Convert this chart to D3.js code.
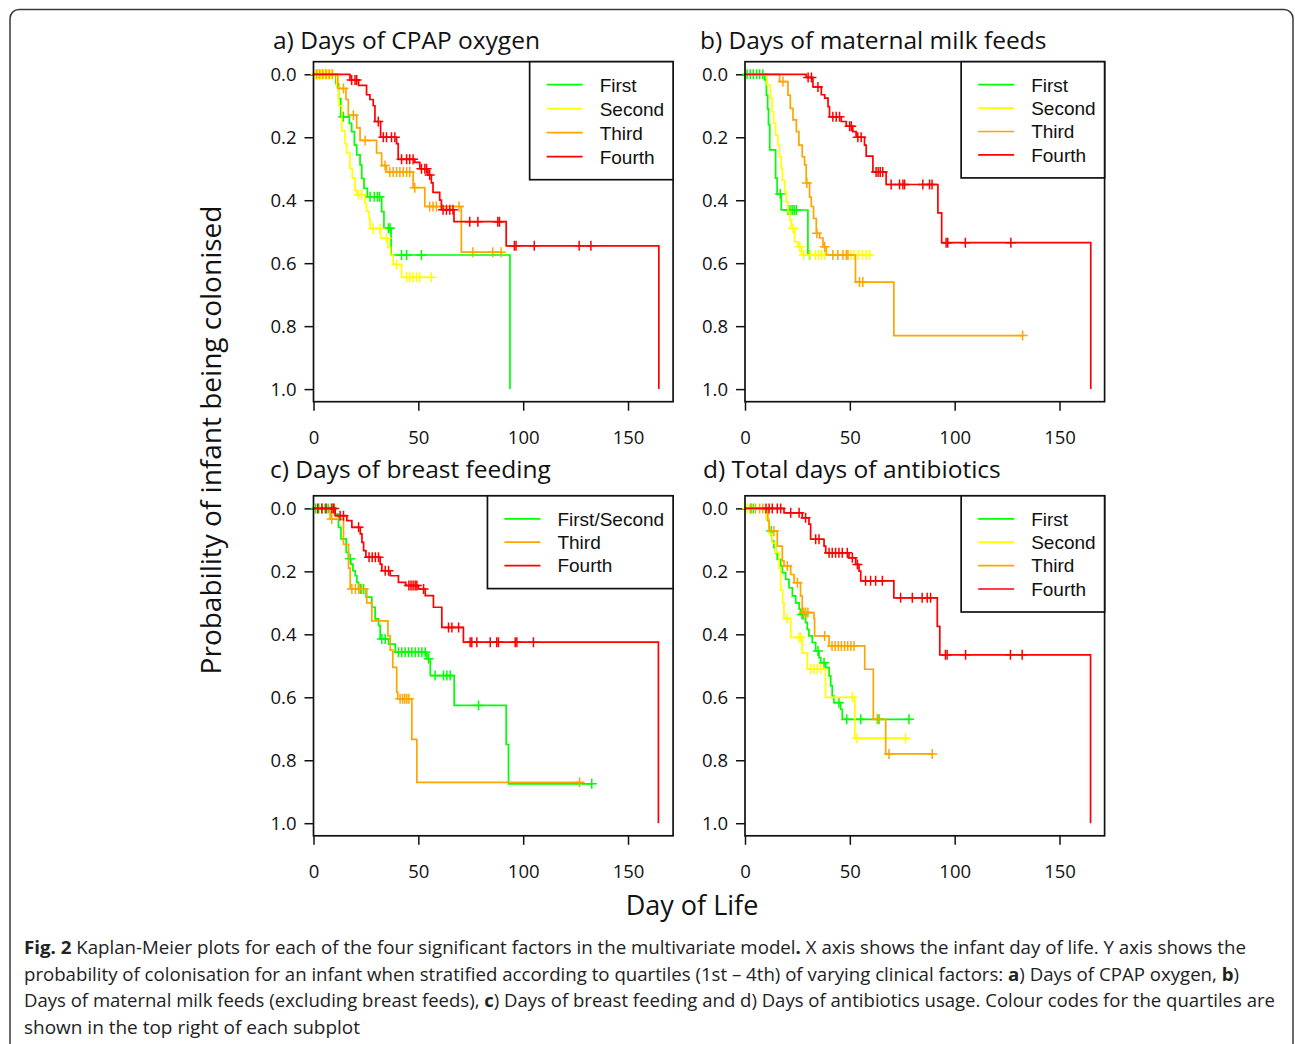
<!DOCTYPE html>
<html>
<head>
<meta charset="utf-8">
<script src="https://cdn.jsdelivr.net/npm/d3@7"></script>
<style>
  body { margin: 0; background: #fff; }
  svg { display: block; }
</style>
</head>
<body>
<div id="chart"></div>
<script>
// legend names / colours (R: green, yellow, orange, red)
var quartileNames = ["First", "Second", "Third", "Fourth"];
var breastNames = ["First/Second", "Third", "Fourth"];
var quartileColors = ["#00ff00", "#ffff00", "#ffa500", "#ff0000"];
var breastColors = ["#00ff00", "#ffa500", "#ff0000"];
var panelTitles = ["a) Days of CPAP oxygen", "b) Days of maternal milk feeds",
                   "c) Days of breast feeding", "d) Total days of antibiotics"];
var xTicks = [0, 50, 100, 150];
var yTicks = [0, 0.2, 0.4, 0.6, 0.8, 1.0];

// each curve: [day, probability colonised] at every drop
// plus the days of censored infants ("+" marks)

// a) CPAP oxygen
var cpapFirst = [[10.7,0.03],[12,0.077],[13,0.135],[17.1,0.156],[18.2,0.182],[19.5,0.225],[20.6,0.256],[22.2,0.288],[23,0.331],[24.1,0.362],[25.7,0.389],[32.5,0.436],[33.6,0.489],[37,0.574],[93.7,1.0]];
var cpapFirstCens = [2,4,6,14.2,27,29,30.5,31.5,35.7,36.5,42,44.4,51.5];
var cpapSecond = [[11.1,0.04],[12,0.1],[13.5,0.18],[15,0.22],[15.8,0.25],[17.4,0.3],[18.5,0.33],[19.8,0.37],[20.6,0.383],[24.5,0.41],[25.3,0.435],[26.5,0.46],[27,0.49],[32,0.52],[35.5,0.55],[36.7,0.574],[38,0.604],[42,0.645]];
var cpapSecondCens = [1,2,3,4,5,6,7,8,9,21.4,23,28.5,31.7,34.8,39.6,44.4,45.9,47.5,49.1,50.7,56.2];
var cpapThird = [[11.6,0.045],[15.5,0.08],[16.6,0.13],[20.6,0.17],[22.2,0.21],[30.1,0.25],[32.5,0.29],[34.8,0.31],[47.5,0.36],[53.1,0.42],[70.5,0.565]];
var cpapThirdCens = [1.5,3,4.5,6,7.5,9,14.3,19,24.6,34.1,36.4,38,39.6,41.2,42.8,44.4,45.9,48.3,55.4,57,58.6,69.4,76,85.5,89.5];
var cpapFourth = [[17.4,0.018],[21.5,0.035],[25.3,0.065],[26.9,0.08],[28.5,0.1],[29.3,0.15],[32,0.2],[39.6,0.22],[40.4,0.27],[48.3,0.28],[50.7,0.3],[54.6,0.32],[56.2,0.345],[57,0.375],[60.2,0.4],[61,0.43],[67,0.468],[91.9,0.545],[164.7,1.0]];
var cpapFourthCens = [18.2,19.8,20.6,30.9,33.3,34.8,37.2,38.8,42,44.4,45.9,47.5,51.5,53.1,53.9,55.4,61.8,63.4,65,66.5,74.5,78.4,87.9,88.7,95.8,96.6,105.3,126.7,132.3];

// b) maternal milk feeds
var milkFirst = [[9.4,0.018],[10.2,0.066],[10.8,0.11],[11.2,0.16],[11.8,0.24],[14.6,0.33],[15.3,0.38],[17.3,0.431],[30,0.574]];
var milkFirstCens = [1,2.5,4,5.5,7,8.5,16.8,20.5,21.5,22.5,23.5,24.5,30.8];
var milkSecond = [[10.5,0.034],[12.1,0.076],[13,0.119],[13.7,0.156],[14.6,0.193],[15.7,0.225],[16.5,0.262],[17.3,0.299],[17.8,0.336],[18.9,0.373],[19.7,0.405],[20.5,0.436],[21.3,0.462],[22.1,0.489],[23.7,0.532],[25.3,0.548],[26.9,0.574]];
var milkSecondCens = [22.9,26.1,28,31,33.5,35,36.5,38,50.5,52,54,56,57.8,59.4];
var milkThird = [[16.5,0.023],[20.5,0.066],[21.6,0.108],[22.9,0.145],[24.5,0.182],[25.7,0.225],[27.3,0.262],[28.4,0.288],[29.2,0.345],[30.8,0.39],[31.6,0.42],[32.7,0.458],[34,0.505],[35.6,0.52],[37.2,0.548],[38.8,0.574],[52.7,0.66],[71,0.83]];
var milkThirdCens = [18.1,29.5,34.3,38,41.9,44.3,46.7,48.3,49.1,54.6,56.2,132.4];
var milkFourth = [[29.2,0.01],[32.4,0.04],[36.4,0.065],[38,0.076],[39.6,0.103],[40.3,0.135],[45.9,0.15],[48.3,0.165],[51.4,0.182],[53,0.2],[57,0.225],[57.8,0.26],[61,0.31],[67.3,0.35],[92,0.44],[93.8,0.535],[164.9,1.0]];
var milkFourthCens = [30.1,31.7,34.8,41.9,43.5,45.1,49.9,50.7,53.8,55.4,62.5,63.5,64.5,65.7,69.7,73.7,75.3,76.1,84.8,88,89.2,95.9,96.7,105.1,126.8];

// c) breast feeding
var breastLow = [[10.3,0.018],[11.9,0.06],[13.1,0.097],[15.6,0.14],[16.7,0.16],[17.8,0.177],[18.8,0.198],[19.9,0.214],[20.7,0.235],[21.5,0.256],[25.1,0.282],[27.8,0.314],[29.4,0.351],[31,0.372],[31.8,0.415],[35.8,0.431],[39,0.457],[54.1,0.478],[55.7,0.531],[67.1,0.626],[91.9,0.75],[93,0.875]];
var breastLowCens = [1,2.5,4,5.5,7,8.5,10,17.5,22.3,23.9,32.6,34.2,40.5,42.1,43.7,45.3,46.9,48.5,50.1,51.7,53.3,54.9,58,62,63.6,65.2,78.7,132.7];
var breastThird = [[7.9,0.034],[14.3,0.114],[16.7,0.19],[17.5,0.256],[25.4,0.3],[27.8,0.357],[35.5,0.405],[36.6,0.45],[37.8,0.505],[39.7,0.584],[40.2,0.605],[46.9,0.734],[49.3,0.87]];
var breastThirdCens = [8.7,18.3,20,21.5,23,41.3,42.5,43.5,44.5,45.5,126.9];
var breastFourth = [[10.3,0.023],[15.9,0.039],[18.3,0.06],[22.3,0.081],[23.1,0.108],[23.9,0.134],[25,0.155],[31.8,0.177],[32.6,0.198],[36.6,0.214],[40.5,0.235],[44,0.245],[50,0.256],[53.3,0.277],[57.2,0.314],[61.2,0.378],[71.5,0.425],[164.5,1.0]];
var breastFourthCens = [2,4,6,8.8,9.6,12.7,14.3,21.5,26.5,28,29.5,31,34.2,35.8,45.5,46.5,47.5,48.5,49.3,52.5,64.4,66,69.2,74.7,75.5,77.9,84.3,87.4,88.2,96.2,97,104.9];

// d) antibiotics
var abxFirst = [[10.3,0.035],[11.5,0.072],[13,0.104],[13.8,0.125],[14.6,0.141],[15.4,0.162],[17,0.183],[17.8,0.204],[19.4,0.225],[21,0.252],[22.6,0.278],[24.2,0.3],[25.8,0.32],[26.5,0.337],[28.9,0.363],[29.7,0.384],[30.5,0.405],[32.1,0.426],[33.7,0.453],[35.3,0.474],[36.1,0.49],[38.5,0.506],[40.1,0.532],[40.9,0.564],[41.6,0.596],[42.4,0.617],[45.6,0.638],[46.4,0.67]];
var abxFirstCens = [2.5,4,12.5,27.2,27.8,34.8,37.7,44.8,48.5,55.2,63.9,78.2];
var abxSecond = [[10.3,0.035],[11.4,0.08],[13,0.11],[14.6,0.14],[16.2,0.19],[17,0.26],[18,0.3],[18.6,0.35],[21.8,0.41],[27.3,0.46],[29.7,0.51],[38.4,0.6],[52.4,0.73]];
var abxSecondCens = [1,3,20.2,25.7,26.5,31.3,32.9,34.5,36.1,51.2,53.5,76.6];
var abxThird = [[10.9,0.04],[11.5,0.072],[15.4,0.12],[17.8,0.167],[18.6,0.183],[21.8,0.21],[23.4,0.236],[26.5,0.278],[27.3,0.331],[32.9,0.35],[33.2,0.405],[40.1,0.437],[57.1,0.511],[61.2,0.67],[67.1,0.78]];
var abxThirdCens = [3,5,7,8.5,13.8,20.2,25,28,28.9,30,38,41.5,43,44.5,46,47.5,49,50.5,52,63.1,68.7,89.3];
var abxFourth = [[18.6,0.014],[27.3,0.03],[30.5,0.05],[31.3,0.098],[37.7,0.12],[38.5,0.141],[49.6,0.157],[52.8,0.178],[54.4,0.199],[55.2,0.23],[71,0.284],[91.7,0.375],[92.9,0.465],[164.8,1.0]];
var abxFourthCens = [10,11.5,13,15.4,17,21.8,25.8,28.9,33.7,35.3,40.1,41.6,43.2,44.8,46.4,48.8,51.2,53.6,57.5,59.9,62.3,65.5,74.2,79.8,84.5,86.9,88.5,95.6,96.4,105.2,126.6,132.2];

// caption
var captionLines = [
  [["Fig. 2", true], [" Kaplan-Meier plots for each of the four significant factors in the multivariate model", false], [".", true], [" X axis shows the infant day of life. Y axis shows the", false]],
  [["probability of colonisation for an infant when stratified according to quartiles (1st \u2013 4th) of varying clinical factors: ", false], ["a", true], [") Days of CPAP oxygen, ", false], ["b", true], [")", false]],
  [["Days of maternal milk feeds (excluding breast feeds), ", false], ["c", true], [") Days of breast feeding and d) Days of antibiotics usage. Colour codes for the quartiles are", false]],
  [["shown in the top right of each subplot", false]]
];

var panels = [
  { title: panelTitles[0], names: quartileNames, colors: quartileColors,
    curves: [[cpapFirst, cpapFirstCens], [cpapSecond, cpapSecondCens], [cpapThird, cpapThirdCens], [cpapFourth, cpapFourthCens]] },
  { title: panelTitles[1], names: quartileNames, colors: quartileColors,
    curves: [[milkFirst, milkFirstCens], [milkSecond, milkSecondCens], [milkThird, milkThirdCens], [milkFourth, milkFourthCens]] },
  { title: panelTitles[2], names: breastNames, colors: breastColors,
    curves: [[breastLow, breastLowCens], [breastThird, breastThirdCens], [breastFourth, breastFourthCens]] },
  { title: panelTitles[3], names: quartileNames, colors: quartileColors,
    curves: [[abxFirst, abxFirstCens], [abxSecond, abxSecondCens], [abxThird, abxThirdCens], [abxFourth, abxFourthCens]] }
];

// layout
var W = 1295, H = 1044;
var boxLeft = [313.5, 745, 313.5, 745];
var boxTop = [61.7, 61.7, 495.8, 495.8];
var boxW = 359.6, boxH = 340;
var titleX = [273, 700, 270, 703];
var titleY = [48.5, 48.5, 478, 478];
var legendRowGap = [24, 23.4, 23.4, 23.4];
var mainFont = "'Open Sans', sans-serif";
var legendFont = "'Liberation Sans', Arial, sans-serif";

var svg = d3.select("#chart").append("svg")
    .attr("width", W)
    .attr("height", H);

// outer frame
svg.append("rect")
    .attr("x", 10).attr("y", 9.5)
    .attr("width", 1283).attr("height", 1060)
    .attr("rx", 9)
    .attr("fill", "none")
    .attr("stroke", "#3a3a3a")
    .attr("stroke-width", 1.5);

// value of the step function at day t
function probAt(steps, t) {
    var p = 0;
    for (var i = 0; i < steps.length; i++) {
        if (steps[i][0] <= t) p = steps[i][1];
    }
    return p;
}

panels.forEach(function(panel, k) {
    var g = svg.append("g")
        .attr("transform", "translate(" + boxLeft[k] + "," + boxTop[k] + ")");

    var x = d3.scaleLinear().domain([0, 171.5]).range([0, boxW]);
    var y = d3.scaleLinear().domain([-0.04, 1.04]).range([0, boxH]);

    // title
    svg.append("text")
        .attr("x", titleX[k]).attr("y", titleY[k])
        .style("font-family", mainFont)
        .style("font-size", "24.5px")
        .attr("fill", "#111")
        .text(panel.title);

    // axes
    var xAxis = g.append("g")
        .attr("transform", "translate(0," + boxH + ")")
        .call(d3.axisBottom(x).tickValues(xTicks).tickSize(9).tickPadding(20).tickFormat(d3.format("d")));
    var yAxis = g.append("g")
        .call(d3.axisLeft(y).tickValues(yTicks).tickSize(9).tickPadding(8).tickFormat(d3.format(".1f")));
    [xAxis, yAxis].forEach(function(ax) {
        ax.select(".domain").remove();
        ax.selectAll(".tick line").attr("stroke", "#111").attr("stroke-width", 1.5);
        ax.selectAll(".tick text")
            .style("font-family", mainFont)
            .style("font-size", "18.5px")
            .attr("fill", "#111");
    });
    xAxis.selectAll(".tick text").attr("dy", "0.71em");

    // curves
    var line = d3.line()
        .x(function(d) { return x(d[0]); })
        .y(function(d) { return y(d[1]); })
        .curve(d3.curveStepAfter);

    panel.curves.forEach(function(c, j) {
        var steps = c[0], cens = c[1];
        var end = Math.max(steps[steps.length - 1][0], d3.max(cens));
        var pts = [[0, 0]].concat(steps).concat([[end, steps[steps.length - 1][1]]]);
        g.append("path")
            .datum(pts)
            .attr("d", line)
            .attr("fill", "none")
            .attr("stroke", panel.colors[j])
            .attr("stroke-width", 1.7);

        g.selectAll(null)
            .data(cens)
            .enter().append("path")
            .attr("d", function(t) {
                var cx = x(t), cy = y(probAt(steps, t));
                return "M" + (cx - 5) + "," + cy + "H" + (cx + 5) +
                       "M" + cx + "," + (cy - 5) + "V" + (cy + 5);
            })
            .attr("fill", "none")
            .attr("stroke", panel.colors[j])
            .attr("stroke-width", 1.5);
    });

    // box
    g.append("rect")
        .attr("width", boxW).attr("height", boxH)
        .attr("fill", "none")
        .attr("stroke", "#111")
        .attr("stroke-width", 1.7);

    // legend in the top right corner
    var rowGap = legendRowGap[k], firstRow = 23;
    var leg = g.append("g");
    var texts = leg.selectAll("text")
        .data(panel.names)
        .enter().append("text")
        .attr("y", function(d, i) { return firstRow + i * rowGap; })
        .attr("dy", "0.36em")
        .style("font-family", legendFont)
        .style("font-size", "19px")
        .attr("fill", "#111")
        .text(function(d) { return d; });
    var maxW = 0;
    texts.each(function() { maxW = Math.max(maxW, this.getComputedTextLength()); });
    var legW = 70 + maxW + 9;
    var legH = firstRow + (panel.names.length - 1) * rowGap + 23;
    leg.attr("transform", "translate(" + (boxW - legW) + ",0)");
    texts.attr("x", 70);
    leg.selectAll("line")
        .data(panel.names)
        .enter().append("line")
        .attr("x1", 17).attr("x2", 53)
        .attr("y1", function(d, i) { return firstRow + i * rowGap; })
        .attr("y2", function(d, i) { return firstRow + i * rowGap; })
        .attr("stroke", function(d, i) { return panel.colors[i]; })
        .attr("stroke-width", 1.7);
    leg.insert("rect", ":first-child")
        .attr("width", legW).attr("height", legH)
        .attr("fill", "#fff")
        .attr("stroke", "#111")
        .attr("stroke-width", 1.7);
});

// shared axis labels
svg.append("text")
    .attr("transform", "translate(221,440) rotate(-90)")
    .attr("text-anchor", "middle")
    .style("font-family", mainFont)
    .style("font-size", "28px")
    .attr("fill", "#111")
    .text("Probability of infant being colonised");

svg.append("text")
    .attr("x", 692).attr("y", 915)
    .attr("text-anchor", "middle")
    .style("font-family", mainFont)
    .style("font-size", "27px")
    .attr("fill", "#111")
    .text("Day of Life");

// caption
var captionWidths = [1222, 1215, 1251, 336];
var captionY = [954, 980.5, 1007, 1034];
captionLines.forEach(function(parts, i) {
    var t = svg.append("text")
        .attr("x", 24).attr("y", captionY[i])
        .attr("textLength", captionWidths[i])
        .attr("lengthAdjust", "spacingAndGlyphs")
        .style("font-family", mainFont)
        .style("font-size", "17.5px")
        .style("white-space", "pre")
        .attr("fill", "#222");
    parts.forEach(function(p) {
        t.append("tspan")
            .style("font-weight", p[1] ? "700" : "400")
            .text(p[0]);
    });
});
</script>
</body>
</html>
